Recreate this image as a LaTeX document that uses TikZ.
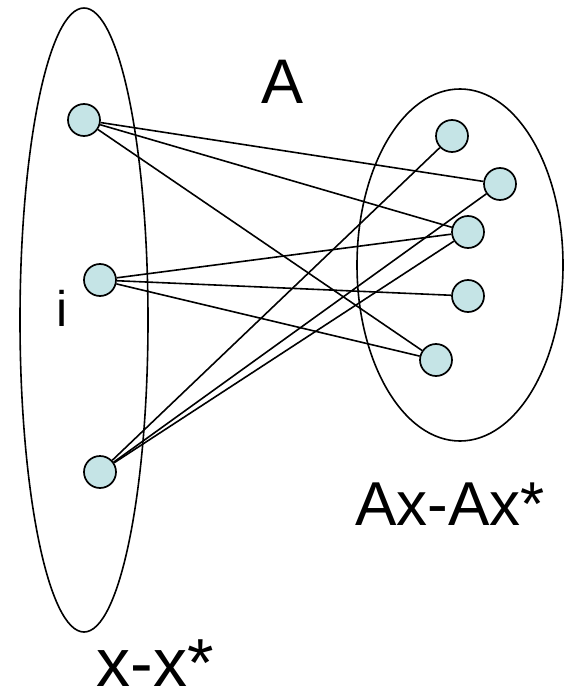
\documentclass[tikz,border=0pt]{standalone}
\usepackage{fontspec}
\setmainfont{Liberation Sans}
\usepackage{xcolor}
\usetikzlibrary{shapes.geometric}

\definecolor{dotfill}{RGB}{197,228,230}

\begin{document}
\begin{tikzpicture}[
        x=1pt, y=-1pt,
        dot/.style={circle, draw, fill=dotfill, line width=1.7pt, minimum size=32pt, inner sep=0pt},
        set/.style={ellipse, draw, line width=1.6pt, inner sep=0pt},
        edge/.style={line width=1.6pt},
        lbl/.style={anchor=base, inner sep=0pt}
    ]
        \useasboundingbox (0,0) rectangle (575,700);

        % the two sets
        \node[set, minimum width=128pt, minimum height=624pt] (setX) at (84,320) {};
        \node[set, minimum width=206pt, minimum height=352pt] (setAx) at (460,265) {};

        % labels
        \node[lbl, font=\fontsize{63}{63}\selectfont] (labA) at (283,104) {A};
        \node[lbl, font=\fontsize{50}{50}\selectfont] (labI) at (62,326) {i};
        \node[lbl, font=\fontsize{62}{62}\selectfont] (labAx) at (450,525) {Ax-Ax*};
        \node[lbl, font=\fontsize{68}{68}\selectfont] (labX) at (155,686) {x-x*};

        % left points
        \node[dot] (l1) at (84,120) {};
        \node[dot] (l2) at (100,280) {};
        \node[dot] (l3) at (100,472) {};

        % right points
        \node[dot] (r1) at (452,136) {};
        \node[dot] (r2) at (500,184) {};
        \node[dot] (r3) at (468,232) {};
        \node[dot] (r4) at (468,296) {};
        \node[dot] (r5) at (436,360) {};

        \draw[edge] (l1) -- (r2);
        \draw[edge] (l1) -- (r3);
        \draw[edge] (l1) -- (r5);
        \draw[edge] (l2) -- (r3);
        \draw[edge] (l2) -- (r4);
        \draw[edge] (l2) -- (r5);
        \draw[edge] (l3) -- (r1);
        \draw[edge] (l3) -- (r2);
        \draw[edge] (l3) -- (r3);
    \end{tikzpicture}
\end{document}
